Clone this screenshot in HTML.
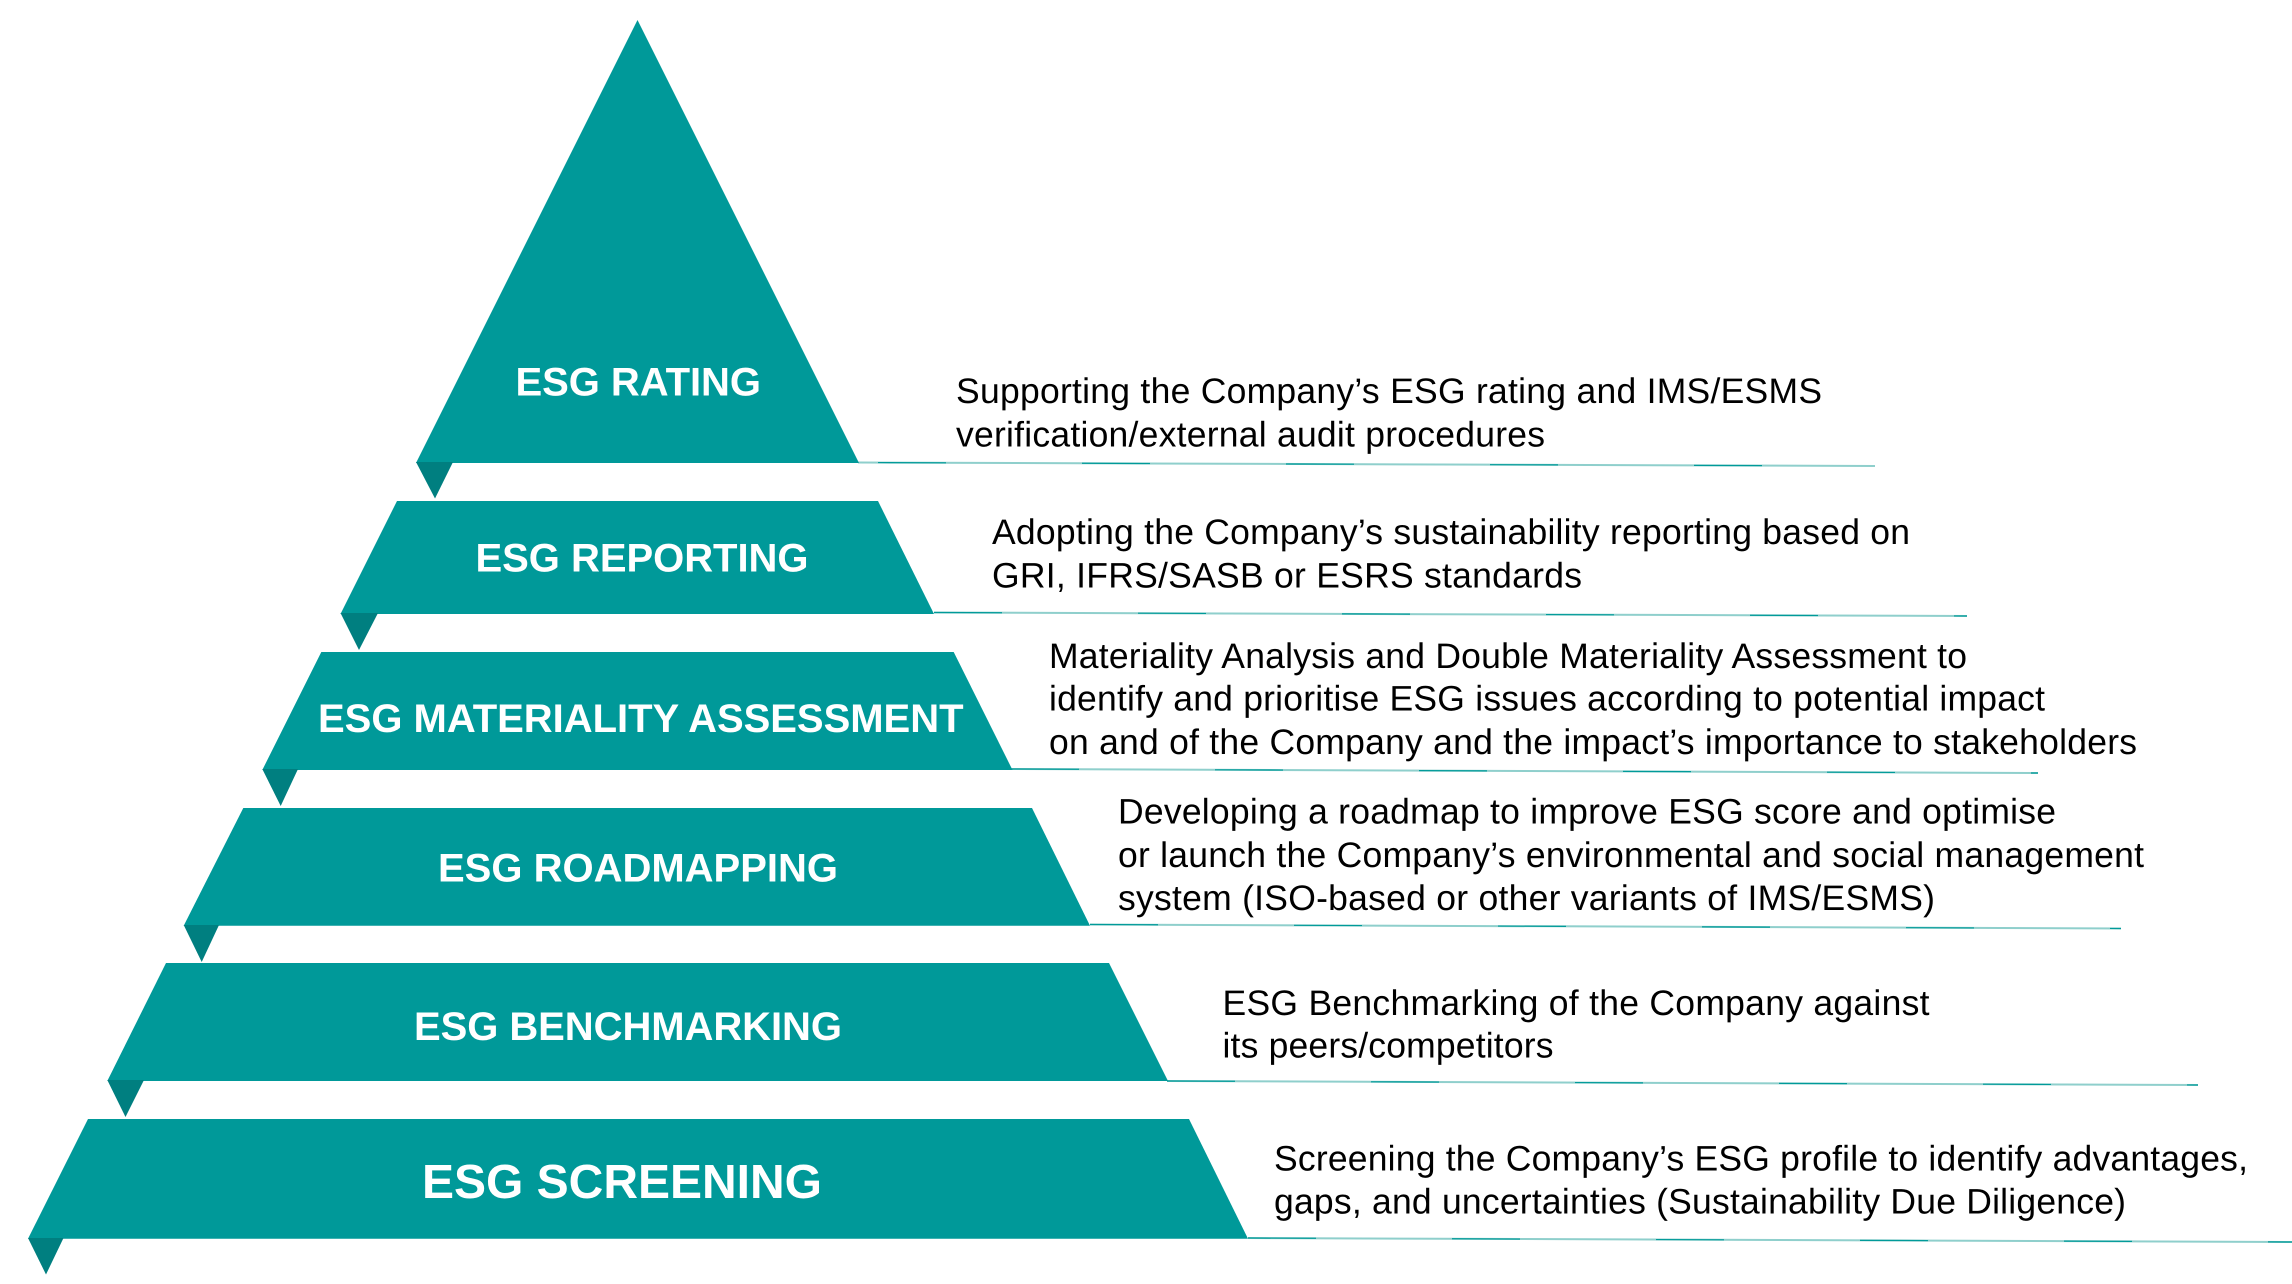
<!DOCTYPE html>
<html lang="en">
<head>
<meta charset="utf-8">
<title>ESG pyramid</title>
<style>
html,body{margin:0;padding:0;background:#fff;width:2292px;height:1284px;overflow:hidden}
svg{display:block}
text{font-family:"Liberation Sans",Arial,sans-serif;text-rendering:geometricPrecision}
.l{font-weight:bold;fill:#fff;font-size:40px}
.t{fill:#000;font-size:35.5px}
.a{stroke:#8fcfcc;stroke-width:2;fill:none}
.b{stroke:#009a99;stroke-width:1.2;fill:none;stroke-dasharray:68 136}
</style>
</head>
<body>
<svg width="2292" height="1284" viewBox="0 0 2292 1284" xmlns="http://www.w3.org/2000/svg">
<!-- connector lines -->
<g>
<path class="a" d="M858 462.5L1875 466"/><path class="b" d="M858 462.5L1875 466" stroke-dashoffset="-20"/>
<path class="a" d="M934 612.5L1967 616"/><path class="b" d="M934 612.5L1967 616"/>
<path class="a" d="M1011 769L2038 773"/><path class="b" d="M1011 769L2038 773"/>
<path class="a" d="M1090 924.5L2121 928.5"/><path class="b" d="M1090 924.5L2121 928.5"/>
<path class="a" d="M1167 1081L2198 1085"/><path class="b" d="M1167 1081L2198 1085"/>
<path class="a" d="M1248 1238L2292 1242"/><path class="b" d="M1248 1238L2292 1242"/>
</g>
<!-- bands -->
<g fill="#009999">
<polygon points="637.5,20 859,463 416,463"/>
<polygon points="397,501 878,501 934,614 340.5,614"/>
<polygon points="321.3,652 953.7,652 1012.5,770 262.3,770"/>
<polygon points="243.3,808 1032,808 1090,925.7 183.7,925.7"/>
<polygon points="166,963 1109,963 1168,1081 107.3,1081"/>
<polygon points="88,1119 1189,1119 1248,1238.7 28,1238.7"/>
</g>
<!-- notches -->
<g fill="#007f80">
<polygon points="416,462 453,462 435,498.5"/>
<polygon points="340.5,613 378,613 359,650"/>
<polygon points="262.3,769 298,769 280.7,806"/>
<polygon points="183.7,925 219,925 201.7,962"/>
<polygon points="107.3,1080 144,1080 125.5,1117"/>
<polygon points="28,1238 63.5,1238 46,1274.5"/>
</g>
<!-- band labels -->
<text class="l" x="515.5" y="395.3" textLength="245.5">ESG RATING</text>
<text class="l" x="475.5" y="571.7" textLength="333">ESG REPORTING</text>
<text class="l" x="318" y="732" textLength="645.5">ESG MATERIALITY ASSESSMENT</text>
<text class="l" x="438" y="881.7" textLength="400">ESG ROADMAPPING</text>
<text class="l" x="414" y="1040" textLength="428">ESG BENCHMARKING</text>
<text class="l" x="422" y="1198" textLength="400" style="font-size:48px">ESG SCREENING</text>
<!-- descriptions -->
<text class="t" x="956" y="403" textLength="866">Supporting the Company’s ESG rating and IMS/ESMS</text>
<text class="t" x="956" y="446.4" textLength="589">verification/external audit procedures</text>
<text class="t" x="992" y="544" textLength="918">Adopting the Company’s sustainability reporting based on</text>
<text class="t" x="992" y="587.4" textLength="590">GRI, IFRS/SASB or ESRS standards</text>
<text class="t" x="1049" y="668" textLength="918">Materiality Analysis and Double Materiality Assessment to</text>
<text class="t" x="1049" y="710.7" textLength="996">identify and prioritise ESG issues according to potential impact</text>
<text class="t" x="1049" y="754" textLength="1088">on and of the Company and the impact’s importance to stakeholders</text>
<text class="t" x="1118" y="823.7" textLength="938">Developing a roadmap to improve ESG score and optimise</text>
<text class="t" x="1118" y="867.2" textLength="1026">or launch the Company’s environmental and social management</text>
<text class="t" x="1118" y="910" textLength="817">system (ISO-based or other variants of IMS/ESMS)</text>
<text class="t" x="1222.5" y="1015" textLength="707">ESG Benchmarking of the Company against</text>
<text class="t" x="1222.5" y="1057.4" textLength="331">its peers/competitors</text>
<text class="t" x="1274" y="1170.7" textLength="974">Screening the Company’s ESG profile to identify advantages,</text>
<text class="t" x="1274" y="1213.7" textLength="852">gaps, and uncertainties (Sustainability Due Diligence)</text>
</svg>
</body>
</html>
